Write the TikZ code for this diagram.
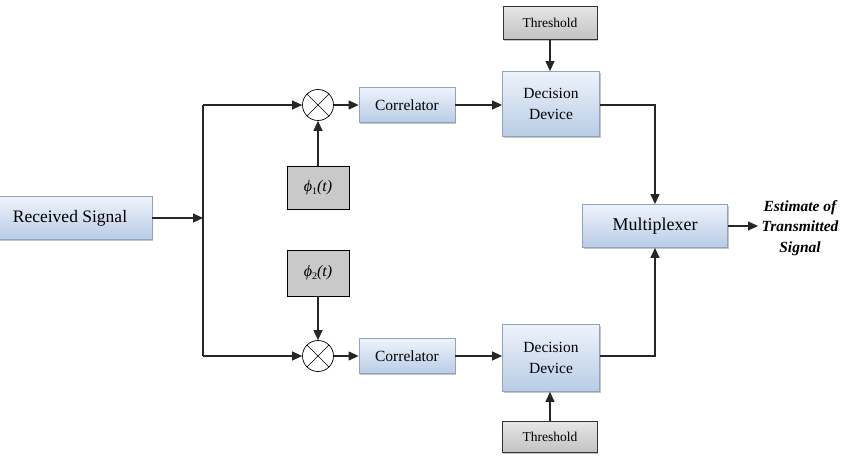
\documentclass[tikz,border=0pt]{standalone}
\usepackage{fontspec}
\setmainfont{Liberation Serif}
\usetikzlibrary{arrows.meta,shadows,calc}
\definecolor{bluetop}{HTML}{EEF3FB}
\definecolor{bluebot}{HTML}{B8CCE6}
\definecolor{blueedge}{HTML}{8FA3BE}
\definecolor{graytop}{HTML}{E6E6E6}
\definecolor{graybot}{HTML}{C2C2C2}
\definecolor{phigray}{HTML}{C9C9C9}
\tikzset{
  bluebox/.style={rectangle, draw=blueedge, line width=0.8pt, top color=bluetop, bottom color=bluebot,
    drop shadow={shadow xshift=1pt, shadow yshift=-1.5pt, fill=black!45}, align=center, inner sep=0pt},
  thbox/.style={rectangle, draw=black!80, line width=0.8pt, top color=graytop, bottom color=graybot,
    drop shadow={shadow xshift=0.5pt, shadow yshift=-1.5pt, fill=black!45}, align=center, inner sep=0pt,
    font=\fontsize{13.5}{15}\selectfont},
  phibox/.style={rectangle, draw=black, line width=0.8pt, fill=phigray, inner sep=0pt,
    font=\fontsize{16}{18}\selectfont},
  mult/.style={circle, draw=black, line width=0.7pt, fill=white, minimum size=31pt, inner sep=0pt},
  conn/.style={line width=1.2pt, draw=black!85},
  arr/.style={conn, -{Triangle[length=10pt,width=9pt]}},
}
\newcommand{\phifn}[1]{\textit{ϕ}\raisebox{-0.35ex}{\fontsize{10}{10}\selectfont #1}\textit{(t)}}
\begin{document}
\begin{tikzpicture}[x=1pt,y=-1pt]
\useasboundingbox (0,0) rectangle (844,468);
% nodes
\node[bluebox, minimum width=164pt, minimum height=43pt, font=\fontsize{17.5}{20}\selectfont] (recv) at (70,218) {Received Signal};
\node[mult] (m1) at (318,105) {};
\node[mult] (m2) at (318,356) {};
\node[bluebox, minimum width=96pt, minimum height=35pt, font=\fontsize{15.5}{18}\selectfont] (c1) at (407,105) {Correlator};
\node[bluebox, minimum width=96pt, minimum height=35pt, font=\fontsize{15.5}{18}\selectfont] (c2) at (407,356) {Correlator};
\node[phibox, minimum width=62pt, minimum height=43pt] (p1) at (318,188) {\phifn{1}};
\node[phibox, minimum width=62pt, minimum height=46pt] (p2) at (318,273) {\phifn{2}};
\node[bluebox, minimum width=97pt, minimum height=65pt, font=\fontsize{15.5}{21}\selectfont] (d1) at (551,104) {Decision\\Device};
\node[bluebox, minimum width=97pt, minimum height=67pt, font=\fontsize{15.5}{21}\selectfont] (d2) at (551,358) {Decision\\Device};
\node[thbox, minimum width=94pt, minimum height=33pt] (t1) at (550,23) {Threshold};
\node[thbox, minimum width=95pt, minimum height=31pt] (t2) at (550,437) {Threshold};
\node[bluebox, minimum width=145pt, minimum height=43pt, font=\fontsize{18}{20}\selectfont] (mux) at (655,226) {Multiplexer};
\node[align=center, font=\fontsize{15.5}{20.5}\selectfont\bfseries\itshape, inner sep=0pt] (out) at (800,228) {Estimate of\\Transmitted\\Signal};
% crosses in multipliers
\foreach \m in {m1,m2}{
  \draw[line width=0.6pt] (\m.45) -- (\m.225) (\m.135) -- (\m.315);
}
% coordinates
\coordinate (j) at (203,218);
\coordinate (jt) at (203,105);
\coordinate (jb) at (203,356);
\coordinate (o1) at (655,105);
\coordinate (o2) at (655,356);
\coordinate (oe) at (758,226);
% connectors
\draw[arr] (recv.east) -- (j);
\draw[conn] (jt) -- (jb);
\draw[arr] (jt) -- (m1.west);
\draw[arr] (jb) -- (m2.west);
\draw[arr] (p1.north) -- (m1.south);
\draw[arr] (p2.south) -- (m2.north);
\draw[arr] (m1.east) -- (c1.west);
\draw[arr] (m2.east) -- (c2.west);
\draw[arr] (c1.east) -- (c1.east -| d1.west);
\draw[arr] (c2.east) -- (c2.east -| d2.west);
\draw[arr] (t1.south) -- (d1.north -| t1.south);
\draw[arr] (t2.north) -- (d2.south -| t2.north);
\draw[arr] (o1 -| d1.east) -- (o1) -- (mux.north);
\draw[arr] (o2 -| d2.east) -- (o2) -- (mux.south);
\draw[arr] (mux.east) -- (oe);
\end{tikzpicture}
\end{document}
